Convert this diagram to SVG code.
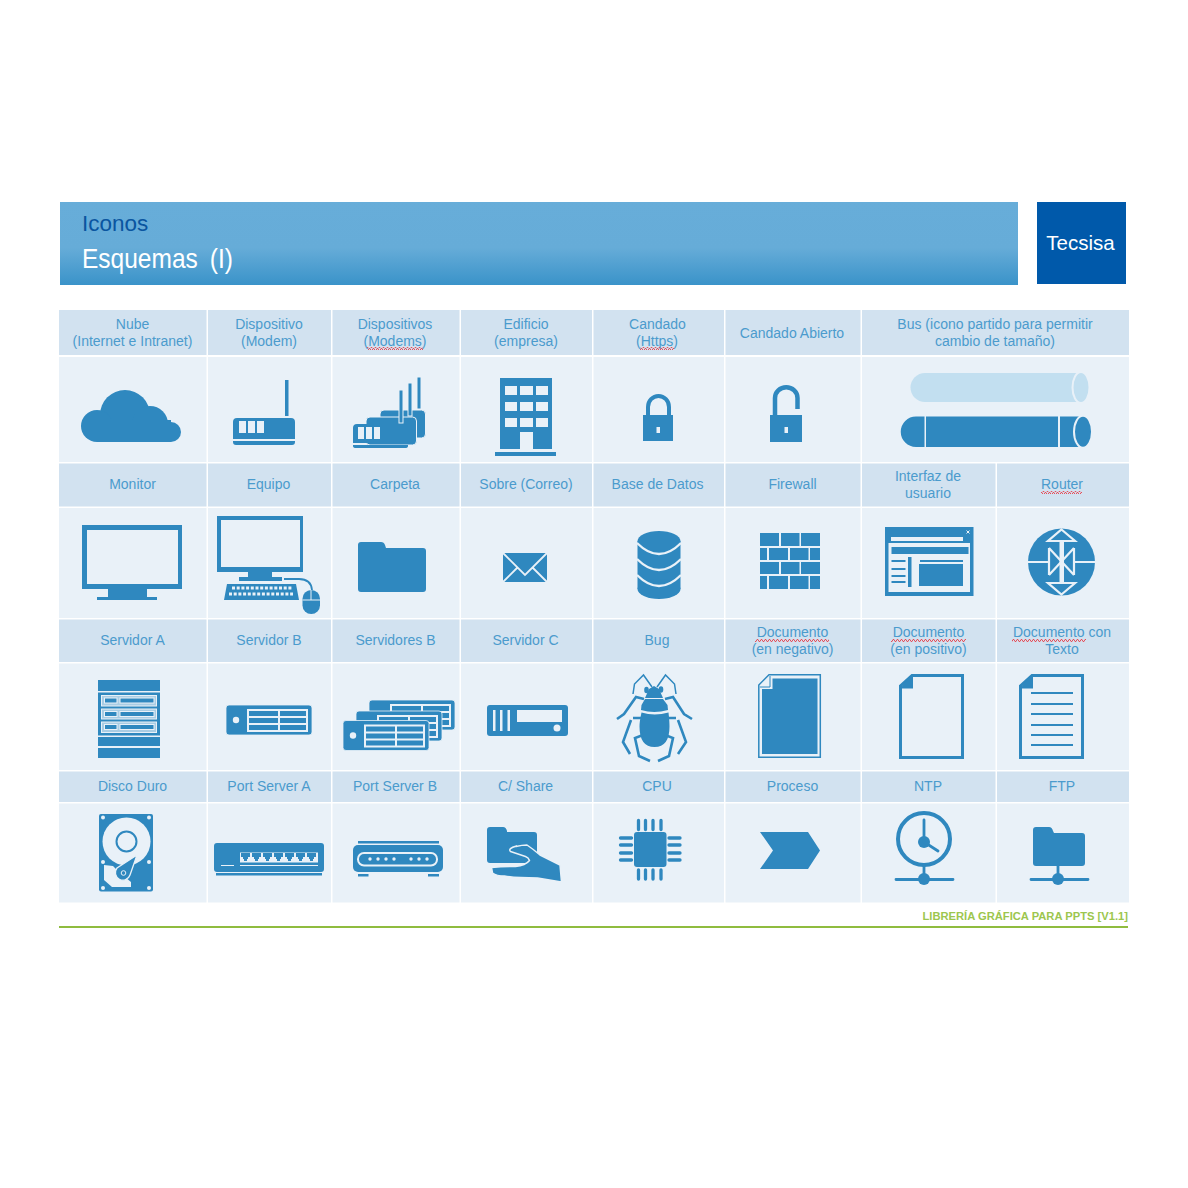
<svg xmlns="http://www.w3.org/2000/svg" xmlns:xlink="http://www.w3.org/1999/xlink" width="1188" height="1188" viewBox="0 0 1188 1188">
<style>
text{font-family:"Liberation Sans",Arial,sans-serif}
.l{font-size:14px;fill:#4b9bcd;text-anchor:middle}
.h{fill:#d2e2f0}
.b{fill:#e9f1f8}
.i{fill:#2f88bf}
.w{fill:#e9f1f8}
.s{fill:none;stroke:#2f88bf}
.sw{fill:none;stroke:#e9f1f8}
</style>
<defs>
<linearGradient id="hg" x1="0" y1="0" x2="0" y2="1"><stop offset="0" stop-color="#67add9"/><stop offset="0.55" stop-color="#66acd8"/><stop offset="1" stop-color="#3a93c9"/></linearGradient>
<pattern id="wavy" width="4" height="3" patternUnits="userSpaceOnUse"><path d="M0 2.500L1 .5L2 .5L3 2.500L4 2.500" fill="none" stroke="#e6505a" stroke-width="1"/></pattern>
<path id="port" d="M0 0h9v4h-2v2h-1v2h-3v-2h-1v-2h-2z"/>
<g id="tbl"><rect x="0" y="0" width="61" height="23" fill="#e9f1f8"/><path d="M2 2h29v5H2zM33 2h26v5H33zM2 9h29v5H2zM33 9h26v5H33zM2 16h29v5H2zM33 16h26v5H33z" fill="#2f88bf"/></g>
<g id="srv"><rect x="0" y="0" width="86" height="30" rx="3" fill="#2f88bf" stroke="#e9f1f8" stroke-width=".8"/><circle cx="10" cy="15" r="3.200" fill="#e9f1f8"/><use xlink:href="#tbl" x="21" y="4"/></g>
</defs>

<g id="header">
<rect x="60" y="202" width="958" height="83" fill="url(#hg)"/>
<text x="82" y="231" font-size="22.500" fill="#0a55a0">Iconos</text>
<text x="82" y="268" font-size="28" fill="#fff" word-spacing="6" textLength="151" lengthAdjust="spacingAndGlyphs">Esquemas (I)</text>
<rect x="1037" y="202" width="89" height="82" fill="#0059aa"/>
<text x="1080.500" y="250" font-size="20.500" fill="#fff" text-anchor="middle">Tecsisa</text>
</g>

<g id="grid">
<path class="h" d="M59 310h147.500v45H59zM208 310h123v45H208zM332.500 310h127v45h-127zM461 310h131v45H461zM593.500 310h130.500v45H593.500zM725.500 310h135v45h-135zM862 310h267v45H862z"/>
<path class="b" d="M59 357h147.500v105H59zM208 357h123v105H208zM332.500 357h127v105h-127zM461 357h131v105H461zM593.500 357h130.500v105H593.500zM725.500 357h135v105h-135zM862 357h267v105H862z"/>
<path class="h" d="M59 463.500h147.500v43H59zM208 463.500h123v43H208zM332.500 463.500h127v43h-127zM461 463.500h131v43H461zM593.500 463.500h130.500v43H593.500zM725.500 463.500h135v43h-135zM862 463.500h133.500v43H862zM997 463.500h132v43H997z"/>
<path class="b" d="M59 508h147.500v110H59zM208 508h123v110H208zM332.500 508h127v110h-127zM461 508h131v110H461zM593.500 508h130.500v110H593.500zM725.500 508h135v110h-135zM862 508h133.500v110H862zM997 508h132v110H997z"/>
<path class="h" d="M59 619.500h147.500v42.500H59zM208 619.500h123v42.500H208zM332.500 619.500h127v42.500h-127zM461 619.500h131v42.500H461zM593.500 619.500h130.500v42.500H593.500zM725.500 619.500h135v42.500h-135zM862 619.500h133.500v42.500H862zM997 619.500h132v42.500H997z"/>
<path class="b" d="M59 663.500h147.500v106.500H59zM208 663.500h123v106.500H208zM332.500 663.500h127v106.500h-127zM461 663.500h131v106.500H461zM593.500 663.500h130.500v106.500H593.500zM725.500 663.500h135v106.500h-135zM862 663.500h133.500v106.500H862zM997 663.500h132v106.500H997z"/>
<path class="h" d="M59 771.500h147.500v30.500H59zM208 771.500h123v30.500H208zM332.500 771.500h127v30.500h-127zM461 771.500h131v30.500H461zM593.500 771.500h130.500v30.500H593.500zM725.500 771.500h135v30.500h-135zM862 771.500h133.500v30.500H862zM997 771.500h132v30.500H997z"/>
<path class="b" d="M59 803.500h147.500v99H59zM208 803.500h123v99H208zM332.500 803.500h127v99h-127zM461 803.500h131v99H461zM593.500 803.500h130.500v99H593.500zM725.500 803.500h135v99h-135zM862 803.500h133.500v99H862zM997 803.500h132v99H997z"/>
</g>

<g id="labels">
<text class="l" x="132.500" y="329">Nube</text><text class="l" x="132.500" y="346">(Internet e Intranet)</text>
<text class="l" x="269" y="329">Dispositivo</text><text class="l" x="269" y="346">(Modem)</text>
<text class="l" x="395" y="329">Dispositivos</text><text class="l" x="395" y="346">(Modems)</text>
<text class="l" x="526" y="329">Edificio</text><text class="l" x="526" y="346">(empresa)</text>
<text class="l" x="657.500" y="329">Candado</text><text class="l" x="657" y="346">(Https)</text>
<text class="l" x="792" y="338">Candado Abierto</text>
<text class="l" x="995" y="329">Bus (icono partido para permitir</text><text class="l" x="995" y="346">cambio de tamaño)</text>
<text class="l" x="132.500" y="489">Monitor</text>
<text class="l" x="268.500" y="489">Equipo</text>
<text class="l" x="395" y="489">Carpeta</text>
<text class="l" x="526" y="489">Sobre (Correo)</text>
<text class="l" x="657.500" y="489">Base de Datos</text>
<text class="l" x="792.500" y="489">Firewall</text>
<text class="l" x="928" y="481">Interfaz de</text><text class="l" x="928" y="498">usuario</text>
<text class="l" x="1062" y="489">Router</text>
<text class="l" x="132.500" y="645">Servidor A</text>
<text class="l" x="269" y="645">Servidor B</text>
<text class="l" x="395.500" y="645">Servidores B</text>
<text class="l" x="525.500" y="645">Servidor C</text>
<text class="l" x="657" y="645">Bug</text>
<text class="l" x="792.500" y="637">Documento</text><text class="l" x="792.500" y="654">(en negativo)</text>
<text class="l" x="928.500" y="637">Documento</text><text class="l" x="928.500" y="654">(en positivo)</text>
<text class="l" x="1062" y="637">Documento con</text><text class="l" x="1062" y="654">Texto</text>
<text class="l" x="132.500" y="791">Disco Duro</text>
<text class="l" x="269" y="791">Port Server A</text>
<text class="l" x="395" y="791">Port Server B</text>
<text class="l" x="525.500" y="791">C/ Share</text>
<text class="l" x="657" y="791">CPU</text>
<text class="l" x="792.500" y="791">Proceso</text>
<text class="l" x="928" y="791">NTP</text>
<text class="l" x="1062" y="791">FTP</text>
<path fill="url(#wavy)" d="M367 347h56v3h-56zM640 347h34v3h-34zM1041 491h41v3h-41zM755 639h74v3h-74zM891 639h75v3h-75zM1012 639h74v3h-74z"/>
</g>

<g id="cloud" class="i"><circle cx="125" cy="415" r="25"/><circle cx="97" cy="426" r="16"/><circle cx="150" cy="424" r="18"/><circle cx="171" cy="432" r="10"/><rect x="97" y="420" width="74" height="22"/></g>

<g id="modem" class="i"><rect x="285" y="380" width="3.500" height="36"/><path d="M237 418h54q4 0 4 4v17h-62v-17q0-4 4-4zM233 441h62v1q0 3-3 3h-56q-3 0-3-3z"/><path class="w" d="M239 421h7v12h-7zM248 421h7v12h-7zM257 421h7v12h-7z"/></g>

<g id="modems"><g class="i" stroke="#e9f1f8" stroke-width="1"><rect x="380" y="410" width="45.500" height="28" rx="4"/><rect x="366" y="417" width="50.500" height="28" rx="4"/></g>
<g class="i" stroke="#e9f1f8" stroke-width="1"><rect x="417" y="377" width="4" height="32"/><rect x="408" y="383" width="4" height="33"/><rect x="399" y="390" width="4" height="33"/></g>
<path class="i" d="M357 424h47q4 0 4 4v15h-55v-15q0-4 4-4zM353 445h55v1q0 2-3 2h-49q-3 0-3-2z"/><path class="w" d="M358 427h6v12h-6zM366 427h6v12h-6zM374 427h6v12h-6z"/></g>

<g id="building" class="i"><path d="M500 378h52v71h-19v-17h-13v17h-20z"/><rect x="495" y="452" width="61" height="4"/><path class="w" d="M505 386h12v9h-12zM520 386h13v9h-13zM536 386h12v9h-12zM505 402h12v9h-12zM520 402h13v9h-13zM536 402h12v9h-12zM505 418h12v9h-12zM520 418h13v9h-13zM536 418h12v9h-12z"/></g>

<g id="lock"><rect class="i" x="643" y="415" width="30" height="26"/><path class="s" stroke-width="4" d="M648 416v-9a10.500 11 0 0 1 21 0v9"/><rect class="w" x="656.500" y="427" width="3.500" height="6"/></g>

<g id="lock-open"><rect class="i" x="770" y="415" width="32" height="27"/><path class="s" stroke-width="4.500" d="M775 416v-18a11 10.500 0 0 1 22.500 0v11"/><rect class="w" x="784.500" y="427" width="3.500" height="6"/></g>

<g id="bus"><path fill="#c2dff0" d="M925 373h156v29H925a14.500 14.500 0 0 1 0-29z"/><ellipse cx="1081" cy="387.500" rx="8.500" ry="15.500" fill="#c2dff0" stroke="#e9f1f8" stroke-width="2"/>
<path class="i" d="M916 416.500h8.500v30.500H916a15.250 15.250 0 0 1 0-30.500zM926 416.500h132v30.500H926zM1060 416.500h21v30.500h-21z"/><ellipse class="i" cx="1083" cy="431.800" rx="9" ry="16" stroke="#e9f1f8" stroke-width="2"/></g>

<g id="monitor" class="i"><path fill-rule="evenodd" d="M82 525h100v64h-35v8h10v3h-60v-3h11v-8H82zM87 530v54h91v-54z"/></g>

<g id="computer"><path class="i" fill-rule="evenodd" d="M217 516h86v56h-31v5h10v4h-43v-4h9v-5h-31zM221 520v47h79v-47z"/>
<path class="i" d="M227 584h69l3 16h-75z"/><path class="sw" stroke-width="3" stroke-dasharray="3 1.700" d="M232 588h60M229 594h64"/>
<path class="s" stroke-width="1.800" d="M284 579h15q12 0 13 11"/>
<rect class="i" x="302.500" y="590" width="17.500" height="24" rx="8.700"/><path class="sw" stroke-width="1" d="M311 590v10M302.500 600h17.500"/></g>

<g id="folder"><path class="i" d="M361 542h20q3 0 4 3l1 3h37q3 0 3 3v38q0 3-3 3h-62q-3 0-3-3v-44q0-3 3-3z"/></g>

<g id="envelope"><rect class="i" x="503" y="553" width="44" height="29"/><path class="sw" stroke-width="1.800" d="M503 553l22 22 22-22M503 582l15-15M547 582l-15-15"/></g>

<g id="database"><rect class="i" x="637.500" y="541" width="43" height="48"/><ellipse class="i" cx="659" cy="541" rx="21.500" ry="10"/><ellipse class="i" cx="659" cy="589" rx="21.500" ry="10"/><path class="sw" stroke-width="2.300" d="M637 543q22 22 44 0M637 559q22 22 44 0M637 575q22 22 44 0"/></g>

<g id="firewall" class="i"><path d="M760 533h19v13h-19zM781 533h18.500v13H781zM801 533h19v13h-19zM760 548h7v12h-7zM769 548h19v12h-19zM790 548h18.500v12H790zM810 548h10v12h-10zM760 562h19v12h-19zM781 562h18.500v12H781zM801 562h19v12h-19zM760 576h7v13h-7zM769 576h19v13h-19zM790 576h18.500v13H790zM810 576h10v13h-10z"/></g>

<g id="interface"><rect class="i" x="885" y="527" width="88.500" height="69"/><rect class="w" x="891" y="537" width="72" height="4"/><path class="sw" stroke-width="1" d="M966.500 530.500l3 3M969.500 530.500l-3 3"/><rect class="w" x="888.500" y="543" width="81.500" height="49"/>
<path class="i" d="M891.500 547h77v7h-77zM891.500 560h14v2h-14zM891.500 568h14v2h-14zM891.500 575h14v2h-14zM891.500 581h14v2h-14zM908 557h3.500v30H908zM920 560h43v2h-43zM919 564h44v22h-44z"/></g>

<g id="router"><circle class="i" cx="1061.500" cy="562" r="33.500"/>
<path class="sw" stroke-width="2.200" d="M1061.500 529.500L1075 541H1048zM1061.500 594.500L1075 583H1048zM1028 562h21M1074 562h21M1049 548L1074 575M1074 548L1049 575M1049 548v27M1074 548v27"/><rect x="1059.500" y="541" width="4.500" height="42" fill="#e9f1f8"/></g>

<g id="server-a"><rect class="i" x="98" y="680" width="62" height="11"/><rect class="i" x="98" y="692.500" width="62" height="43"/><rect class="i" x="98" y="737" width="62" height="9"/><rect class="i" x="98" y="748" width="62" height="10"/>
<g fill="#a9cde4" stroke="#e9f1f8" stroke-width="1"><rect x="101.500" y="695.500" width="55" height="10.500"/><rect x="101.500" y="709" width="55" height="10"/><rect x="101.500" y="722" width="55" height="10.500"/></g>
<g class="i" stroke="#e9f1f8" stroke-width="1"><rect x="104.500" y="698" width="12.500" height="5"/><rect x="120" y="698" width="34" height="5"/><rect x="104.500" y="711.500" width="12.500" height="5"/><rect x="120" y="711.500" width="34" height="5"/><rect x="104.500" y="724.500" width="12.500" height="5"/><rect x="120" y="724.500" width="34" height="5"/></g></g>

<g id="server-b"><use xlink:href="#srv" x="226" y="705"/></g>

<g id="servers-b"><use xlink:href="#srv" x="369" y="700"/><use xlink:href="#srv" x="356" y="711"/><use xlink:href="#srv" x="343" y="720.500"/></g>

<g id="server-c"><rect class="i" x="487" y="705" width="81" height="31" rx="3"/><path class="w" d="M493 710h2.500v21H493zM500 710h2.500v21H500zM507.500 710h2.500v21h-2.500zM517 710h45v12h-45z"/><circle class="w" cx="557" cy="728" r="3.500"/></g>

<g id="bug"><path class="i" d="M654 686l5 3 4 9h-18l4-9zM645 699h18l4.500 6 .5 5q-14 4-27 0l.5-5zM641.500 712.500q13 4 27 0 1 9 1 14 0 20.500-15 20.500t-15-20.500q0-5 2-14z"/><ellipse class="i" cx="646.500" cy="690" rx="2.300" ry="3.200"/><ellipse class="i" cx="661" cy="689.500" rx="2.300" ry="3.200"/>
<path class="s" stroke-width="1.500" d="M652 687l-8.500-12-9 9-1.500 10M657 687l8.500-12 9 9 1.500 10"/>
<path class="s" stroke-width="2.600" d="M644 699l-8-2-12 17-7 5M665 699l8-2 11 17 8 5M641 718h-8M668 718h8M631 720l-8 22 7 12M678 720l8 22-8 12M643 735l-8 3 4 18 11 5M665 735l8 3-4 18-11 5"/></g>

<g id="doc-neg"><path class="s" stroke-width="1.500" d="M769 674.800h51.300v82.500h-61.500V685z"/><path class="i" d="M772.500 678.500h45v75.500h-55.500V689h10.500z"/><path class="s" stroke-width="1" d="M770 676v11h-10"/></g>

<g id="doc-pos"><path class="s" stroke-width="3" d="M912 675.500h50.500v82h-62V686z"/><path class="i" d="M912 675h1v13.500h-13z"/></g>

<g id="doc-text"><path class="s" stroke-width="3" d="M1032 675.500h50.500v82h-62V686z"/><path class="i" d="M1032 675h1v13.500h-13z"/><path class="s" stroke-width="2" d="M1031 693h42M1031 704h42M1031 714h42M1031 725h42M1031 735h42M1031 745h42"/></g>

<g id="disk"><rect class="i" x="99" y="814" width="54" height="77.500" rx="2"/>
<g class="w"><circle cx="103" cy="817.500" r="2"/><circle cx="149" cy="817.500" r="2"/><circle cx="103" cy="862" r="2"/><circle cx="149" cy="862" r="2"/><circle cx="103" cy="888" r="2"/><circle cx="149" cy="888" r="2"/><circle cx="126.500" cy="841.500" r="24"/><path d="M104 865l9 1 7 7 11 9v5h-19l-8-7z"/></g>
<circle cx="126.500" cy="841.500" r="10" fill="none" stroke="#2f88bf" stroke-width="2"/>
<path class="i" stroke="#e9f1f8" stroke-width="1.300" d="M137 855L130 875A7.500 7.500 0 1 1 117 868Z"/><circle cx="123.500" cy="873" r="2.300" fill="#2f88bf" stroke="#e9f1f8" stroke-width="1"/></g>

<g id="port-a"><rect class="i" x="214" y="843" width="110" height="29" rx="3"/><rect class="i" x="216" y="873" width="106" height="2.500"/><rect class="w" x="240" y="852.500" width="78" height="10"/>
<g class="i"><use xlink:href="#port" x="241" y="853"/><use xlink:href="#port" x="252" y="853"/><use xlink:href="#port" x="263" y="853"/><use xlink:href="#port" x="274" y="853"/><use xlink:href="#port" x="285" y="853"/><use xlink:href="#port" x="296" y="853"/><use xlink:href="#port" x="307" y="853"/></g>
<path class="sw" stroke-width="1" d="M221 865.500h13M240 865.500h78"/></g>

<g id="port-b"><rect class="i" x="353" y="845" width="90" height="27" rx="5"/><path class="i" d="M358 841h81v2.500h-81zM358 874h10.500v2.500H358zM428 874h11v2.500h-11z"/><rect class="i" x="358" y="853" width="79" height="12.500" rx="6" stroke="#e9f1f8" stroke-width="2"/>
<g class="w"><circle cx="370" cy="859" r="1.700"/><circle cx="378" cy="859" r="1.700"/><circle cx="386" cy="859" r="1.700"/><circle cx="394" cy="859" r="1.700"/><circle cx="411" cy="859" r="1.700"/><circle cx="419" cy="859" r="1.700"/><circle cx="427" cy="859" r="1.700"/></g></g>

<g id="share"><path class="i" d="M490 827h13q3 0 4 4v1h27q3 0 3 3v25q0 3-3 3h-44q-3 0-3-3v-30q0-3 3-3z"/><path class="i" stroke="#e9f1f8" stroke-width="1.500" stroke-linejoin="round" d="M516 846.500Q522 845 527 845q6 4 13 10l20 10 1.500 17-24-4q-22 0-33-2-8 0-12-3l-1-5.500q12-1 24-1 10-1 14-6-1-3-4-4l-15-5q-3-3 6-5.500z"/></g>

<g id="cpu"><rect class="i" x="634" y="832" width="32.500" height="35" rx="3"/><path class="s" stroke-width="3.300" stroke-linecap="round" d="M638.500 820.500v9M645.500 820.500v9M653 820.500v9M661 820.500v9M638.500 870v9M645.500 870v9M653 870v9M661 870v9M620.500 838h11M620.500 845h11M620.500 853h11M620.500 860h11M669 838h11M669 845h11M669 853h11M669 860h11"/></g>

<g id="process"><path class="i" d="M760 832h48l12 18.500-12 18.500h-48l13-18.500z"/></g>

<g id="ntp"><circle cx="924" cy="839" r="26" fill="none" stroke="#2f88bf" stroke-width="4"/><circle class="i" cx="924" cy="842" r="6"/><path class="s" stroke-width="2.800" stroke-linecap="round" d="M924 820v22l14 9M924 865v14M896 879.500h57"/><circle class="i" cx="924" cy="879" r="6"/></g>

<g id="ftp"><path class="i" d="M1036 827h13q3 0 4 4l1 2h28q3 0 3 3v27q0 3-3 3h-46q-3 0-3-3v-33q0-3 3-3z"/><path class="s" stroke-width="2.800" stroke-linecap="round" d="M1058 866v13M1031 879.500h57"/><circle class="i" cx="1058" cy="879" r="6"/></g>

<g id="footer"><text x="1128" y="920" font-size="11.200" font-weight="bold" fill="#9cc64e" text-anchor="end">LIBRERÍA GRÁFICA PARA PPTS [V1.1]</text><rect x="59" y="926" width="1069" height="2" fill="#8fbc3f"/></g>
</svg>
